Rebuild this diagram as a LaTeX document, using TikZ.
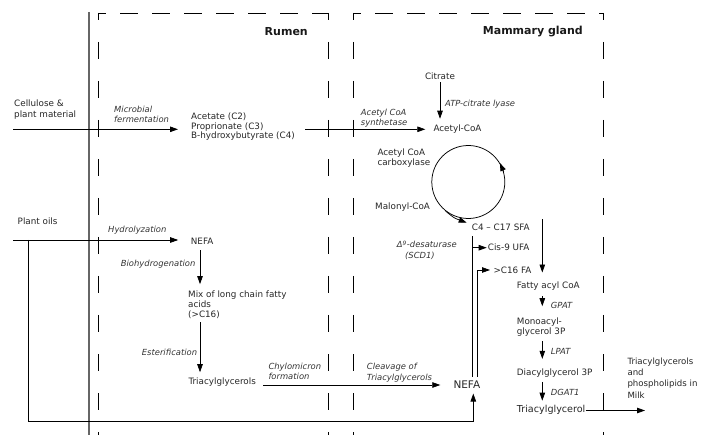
\documentclass[tikz,border=0pt]{standalone}
\usepackage{fontspec}
\setmainfont{DejaVu Sans}
\usetikzlibrary{arrows.meta,calc}
\begin{document}
\begin{tikzpicture}[x=1pt,y=-1pt,
  txt/.style={inner sep=0pt, anchor=west, align=left, font=\fontsize{8.8}{10.5}\selectfont, text=black!85},
  lab/.style={inner sep=0pt, anchor=west, align=left, font=\fontsize{8.4}{10.5}\selectfont\itshape, text=black!80},
  ttl/.style={inner sep=0pt, anchor=east, font=\fontsize{11}{13}\selectfont\bfseries, text=black!90},
  arr/.style={-{Triangle[length=8pt,width=5.5pt]}, line width=0.75pt},
  ln/.style={line width=0.75pt},
  hbox/.style={dash pattern=on 18pt off 14pt, dash phase=10pt, line width=0.7pt},
  vbox/.style={dash pattern=on 17pt off 22pt, dash phase=10pt, line width=0.7pt}]
\useasboundingbox (0,0) rectangle (701,435);

% dividers and compartments
\draw[line width=1.3pt, black!60] (89,12) -- (89,435);
\draw[hbox] (98,13) -- (328,13);
\draw[vbox] (98,13) -- (98,435);
\draw[vbox] (328,13) -- (328,435);
\draw[hbox] (353,13) -- (603,13);
\draw[vbox] (353,13) -- (353,435);
\draw[vbox] (603,13) -- (603,435);

\node[ttl] (rumen) at (308,32) {Rumen};
\node[ttl] (mam) at (583,32) {Mammary gland};

% inputs
\node[txt] (cell) at (14,109.5) {Cellulose \&\\plant material};
\node[txt] (oils) at (17.5,221.7) {Plant oils};
\coordinate (cellin) at (13,129.3);
\coordinate (oilsin) at (13,240);
\coordinate (oilsj) at (28.3,240);
\coordinate (bot) at (473.3,421.7);

% rumen
\node[lab] (micro) at (114,114.5) {Microbial\\fermentation};
\node[txt, font=\fontsize{8.8}{9.7}\selectfont] (acet) at (191,126.7) {Acetate (C2)\\Proprionate (C3)\\B-hydroxybutyrate (C4)};
\node[lab] (hyd) at (108,230) {Hydrolyzation};
\node[txt] (nefa1) at (190.7,241.7) {NEFA};
\node[lab] (bio) at (120.7,264.3) {Biohydrogenation};
\node[txt, font=\fontsize{8.8}{10}\selectfont] (mix) at (188,304.3) {Mix of long chain fatty\\acids\\(>C16)};
\node[lab] (est) at (141.7,352.7) {Esterification};
\node[txt] (tri1) at (188.3,381.7) {Triacylglycerols};
\node[lab, font=\fontsize{8.4}{10}\selectfont\itshape] (chy) at (268.3,371.7) {Chylomicron\\formation};
\coordinate (rx) at (200,0);

% mammary gland
\node[txt, anchor=center] (cit) at (440,76.7) {Citrate};
\node[lab] (atp) at (445,103.7) {ATP-citrate lyase};
\node[lab, font=\fontsize{8.4}{9.7}\selectfont\itshape] (acs) at (360.7,117.9) {Acetyl CoA\\synthetase};
\node[txt] (acoa) at (433.3,128.7) {Acetyl-CoA};
\node[txt] (acc) at (377.3,158) {Acetyl CoA\\carboxylase};
\node[txt] (mal) at (375,206.7) {Malonyl-CoA};
\node[circle, draw, line width=0.75pt, minimum size=73pt, inner sep=0pt] (cyc) at (468.3,182) {};
\node[txt] (c4) at (471.7,227.7) {C4 – C17 SFA};
\node[lab] (desat) at (396.7,244.3) {Δ\textsuperscript{9}-desaturase};
\node[lab] (scd) at (405,256) {(SCD1)};
\node[txt] (cis) at (487.7,247.7) {Cis-9 UFA};
\node[txt] (c16) at (493.3,270) {>C16 FA};
\node[lab] (clv) at (366.7,372.7) {Cleavage of\\Triacylglycerols};
\node[txt, font=\fontsize{10.5}{12}\selectfont] (nefa2) at (453.3,385) {NEFA};
\node[txt] (fac) at (516.7,286) {Fatty acyl CoA};
\node[lab] (gpat) at (550.7,305) {GPAT};
\node[txt, font=\fontsize{8.8}{10}\selectfont] (mono) at (516.7,326.7) {Monoacyl-\\glycerol 3P};
\node[lab] (lpat) at (550.7,351.7) {LPAT};
\node[txt] (dia) at (516.7,373.3) {Diacylglycerol 3P};
\node[lab] (dgat) at (550.7,392.7) {DGAT1};
\node[txt, font=\fontsize{9.6}{11}\selectfont] (tri2) at (516.7,410) {Triacylglycerol};
\node[txt, font=\fontsize{8.6}{11.3}\selectfont] (milk) at (627.3,378) {Triacylglycerols\\and\\phospholipids in\\Milk};
\coordinate (milkin) at (645,410.5);
\coordinate (fx) at (542.3,0);
\coordinate (nl) at (472.5,0);
\coordinate (nr) at (477.7,0);
\coordinate (nefatop) at (0,376.7);

% connectors: rumen
\draw[arr] (cellin) -- ([xshift=-13pt]acet.west |- cellin);
\draw[arr] (oilsin) -- ([xshift=-12.5pt]nefa1.west |- oilsin);
\draw[arr, shorten <=5pt, shorten >=6pt] (rx |- nefa1.south) -- (rx |- mix.north);
\draw[arr, shorten <=4pt, shorten >=5pt] (rx |- mix.south) -- (rx |- tri1.north);
\draw[arr, shorten <=7pt, shorten >=13pt] (tri1.east |- nefa2.west) -- (nefa2.west);
\draw[arr] (oilsj) |- (bot) -- ([yshift=-4.5pt]nefa2.south -| bot);

% connectors: mammary
\draw[arr, shorten <=10pt, shorten >=8pt] (acet.east |- cellin) -- (acoa.west |- cellin);
\draw[arr, shorten <=2pt, shorten >=5.5pt] (cit.south) -- (cit.south |- acoa.north);
\draw[arr] (cyc.16) -- (cyc.31);
\draw[arr] (cyc.232) .. controls (454,218) .. ([shift={(-5pt,5pt)}]c4.west);
\draw[ln, shorten <=5pt] (nl |- c4.south) -- (nl |- nefatop);
\draw[arr] (nl |- cis.west) -- ([xshift=-1pt]cis.west);
\draw[arr] (nr |- nefatop) -- (nr |- c16.west) -- ([xshift=-3.3pt]c16.west);
\draw[arr, shorten <=-5pt, shorten >=9pt] (fx |- c4.north) -- (fx |- fac.north);
\draw[arr, shorten <=6pt, shorten >=11pt] (fx |- fac.south) -- (fx |- mono.north);
\draw[arr, shorten <=5pt, shorten >=10pt] (fx |- mono.south) -- (fx |- dia.north);
\draw[arr, shorten <=4pt, shorten >=4.5pt] (fx |- dia.south) -- (fx |- tri2.north);
\draw[arr] (tri2.east |- milkin) -- (milkin);
\end{tikzpicture}
\end{document}
